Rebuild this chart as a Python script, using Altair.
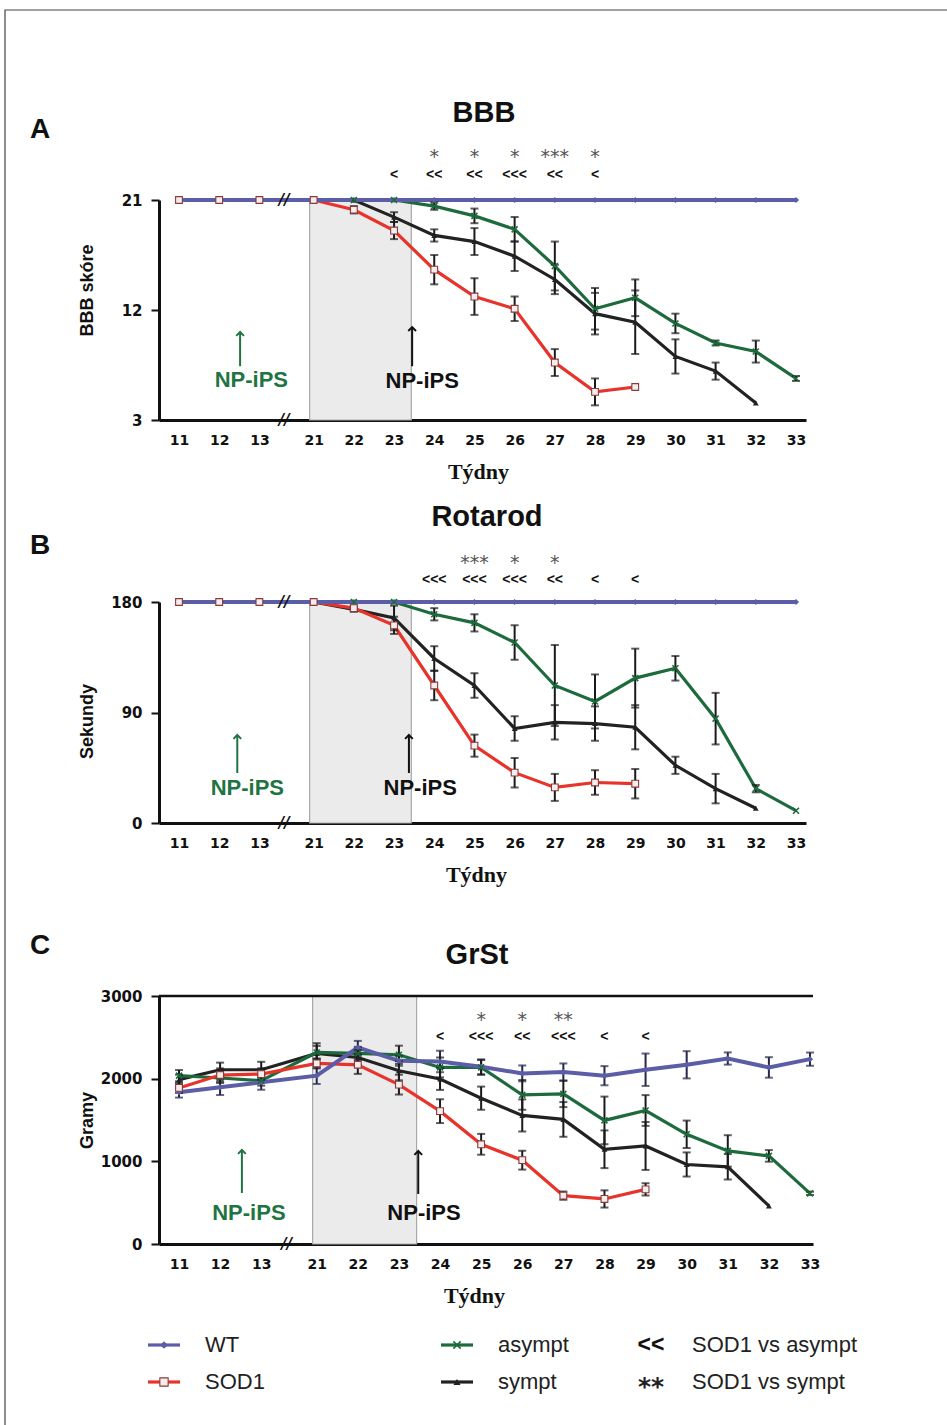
import altair as alt
import pandas as pd

# ---------------- data ----------------
weeks = [11, 12, 13, 21, 22, 23, 24, 25, 26, 27, 28, 29, 30, 31, 32, 33]
series_names = ["WT", "SOD1", "asympt", "sympt"]

# A - BBB score
bbb_wt = [21] * 16
bbb_wt_err = [0] * 16
bbb_sod1 = [21, 21, 21, 21, 20.2, 18.5, 15.3, 13.1, 12.1, 7.7, 5.3, 5.7]
bbb_sod1_err = [0, 0, 0, 0, 0.3, 0.7, 1.2, 1.5, 1.0, 1.1, 1.1, 0]
bbb_asympt = [21, 21, 21, 21, 21, 21, 20.5, 19.7, 18.6, 15.6, 12.1, 13.0, 10.9, 9.3, 8.6, 6.4]
bbb_asympt_err = [0, 0, 0, 0, 0, 0, 0.3, 0.6, 1.0, 2.0, 1.7, 1.5, 0.8, 0.2, 0.9, 0.2]
bbb_sympt = [21, 21, 21, 21, 21, 19.6, 18.1, 17.6, 16.4, 14.5, 11.7, 11.0, 8.2, 7.0, 4.4]
bbb_sympt_err = [0, 0, 0, 0, 0, 0.4, 0.5, 1.1, 1.2, 1.2, 1.7, 2.6, 1.4, 0.7, 0]

# B - Rotarod (seconds)
rot_wt = [180] * 16
rot_wt_err = [0] * 16
rot_sod1 = [180, 180, 180, 180, 175, 161, 112, 63, 41, 29, 33, 32]
rot_sod1_err = [0, 0, 0, 0, 2, 7, 12, 9, 12, 11, 10, 12]
rot_asympt = [180, 180, 180, 180, 180, 180, 170, 163, 147, 112, 99, 118, 126, 85, 28, 10]
rot_asympt_err = [0, 0, 0, 0, 0, 0, 5, 7, 14, 33, 22, 24, 10, 21, 3, 0]
rot_sympt = [180, 180, 180, 180, 174, 167, 134, 112, 77, 82, 81, 78, 47, 28, 12]
rot_sympt_err = [0, 0, 0, 0, 2, 10, 10, 10, 10, 14, 14, 18, 7, 12, 0]

# C - GrSt (grams)
gr_wt = [1835, 1896, 1956, 2036, 2377, 2216, 2208, 2144, 2064, 2080, 2036, 2108, 2168, 2244, 2136, 2236]
gr_wt_err = [64, 94, 90, 100, 80, 60, 130, 90, 96, 104, 116, 196, 165, 74, 124, 80]
gr_sod1 = [1888, 2044, 2056, 2184, 2168, 1928, 1607, 1206, 1014, 585, 545, 661]
gr_sod1_err = [60, 80, 70, 60, 110, 120, 144, 126, 114, 50, 104, 74]
gr_asympt = [2036, 2008, 1976, 2317, 2305, 2289, 2136, 2136, 1804, 1816, 1495, 1615, 1327, 1126, 1066, 613]
gr_asympt_err = [68, 60, 60, 80, 80, 110, 120, 90, 180, 160, 288, 186, 166, 190, 70, 20]
gr_sympt = [1988, 2108, 2108, 2305, 2256, 2096, 1996, 1764, 1555, 1507, 1146, 1186, 962, 934, 461]
gr_sympt_err = [60, 86, 96, 124, 90, 116, 132, 140, 194, 210, 228, 290, 146, 154, 0]

# significance marks
bbb_ann_weeks = [23, 24, 25, 26, 27, 28]
bbb_ann_asym = ["<", "<<", "<<", "<<<", "<<", "<"]
bbb_ann_sym = ["", "*", "*", "*", "***", "*"]
rot_ann_weeks = [24, 25, 26, 27, 28, 29]
rot_ann_asym = ["<<<", "<<<", "<<<", "<<", "<", "<"]
rot_ann_sym = ["", "***", "*", "*", "", ""]
gr_ann_weeks = [24, 25, 26, 27, 28, 29]
gr_ann_asym = ["<", "<<<", "<<", "<<<", "<", "<"]
gr_ann_sym = ["", "*", "*", "**", "", ""]

legend_labels = ["WT", "SOD1", "asympt", "sympt"]
legend_sig_marks = ["<<", "**"]
legend_sig_labels = ["SOD1 vs asympt", "SOD1 vs sympt"]

# ---------------- layout / style ----------------
W, H = 947, 1425
GAP = 3.35  # axis position of week 21 (after the break)


def pos_of(w):
    return float(w - 11) if w <= 13 else float(w - 21 + GAP)


COLORS = {"WT": "#5b5ea6", "SOD1": "#e8332b", "asympt": "#1d6b3c", "sympt": "#222222"}
ERRC = {"WT": "#24264a", "SOD1": "#1a1a1a", "asympt": "#1a1a1a", "sympt": "#1a1a1a"}
LINE_W = {"WT": 4, "SOD1": 3.2, "asympt": 3.2, "sympt": 3.2}
GREEN_TXT = "#1f7442"

panels = [
    dict(letter="A", title="BBB", ytitle="BBB skóre",
         vals=[bbb_wt, bbb_sod1, bbb_asympt, bbb_sympt],
         errs=[bbb_wt_err, bbb_sod1_err, bbb_asympt_err, bbb_sympt_err],
         ann=(bbb_ann_weeks, bbb_ann_asym, bbb_ann_sym),
         x11=179, x33=796, ax0=159, ax1=806,
         ymin=3, ymax=21, ybot=420, ytop=200, yticks=[3, 12, 21],
         ytitle_y=290, xtitle_x=478, title_xy=(484, 113), letter_xy=(40, 130),
         chev_y=23.05, star_y=24.5, top_break=True, top_rule=False,
         g_arrow=(1.52, 10.2, 7.4), g_label=(1.8, 6.3),
         k_arrow=(5.8, 10.6, 7.4), k_label=(6.05, 6.2)),
    dict(letter="B", title="Rotarod", ytitle="Sekundy",
         vals=[rot_wt, rot_sod1, rot_asympt, rot_sympt],
         errs=[rot_wt_err, rot_sod1_err, rot_asympt_err, rot_sympt_err],
         ann=(rot_ann_weeks, rot_ann_asym, rot_ann_sym),
         x11=179, x33=796, ax0=159, ax1=806,
         ymin=0, ymax=180, ybot=823, ytop=602, yticks=[0, 90, 180],
         ytitle_y=721, xtitle_x=476, title_xy=(487, 517), letter_xy=(40, 546),
         chev_y=197.9, star_y=211.8, top_break=True, top_rule=False,
         g_arrow=(1.45, 71.7, 40.7), g_label=(1.7, 28.5),
         k_arrow=(5.72, 71.7, 40.7), k_label=(6.0, 28.5)),
    dict(letter="C", title="GrSt", ytitle="Gramy",
         vals=[gr_wt, gr_sod1, gr_asympt, gr_sympt],
         errs=[gr_wt_err, gr_sod1_err, gr_asympt_err, gr_sympt_err],
         ann=(gr_ann_weeks, gr_ann_asym, gr_ann_sym),
         x11=179, x33=810, ax0=159, ax1=813,
         ymin=0, ymax=3000, ybot=1244, ytop=996, yticks=[0, 1000, 2000, 3000],
         ytitle_y=1120, xtitle_x=474, title_xy=(477, 955), letter_xy=(40, 946),
         chev_y=2504, star_y=2710, top_break=False, top_rule=True,
         g_arrow=(1.53, 1137, 617), g_label=(1.7, 375),
         k_arrow=(5.82, 1125, 605), k_label=(5.96, 375)),
]

one = pd.DataFrame({"d": [0]})
tick_pos = [pos_of(w) for w in weeks]
label_expr = f"datum.value < 3 ? format(datum.value + 11, 'd') : format(datum.value + {21 - GAP:.2f}, '.0f')"

MARKERS = {
    "WT": dict(shape="diamond", filled=True, size=38, color=COLORS["WT"]),
    "SOD1": dict(shape="square", filled=True, size=46, fill="#f4eded", stroke="#8a3a3a", strokeWidth=1.1),
    "asympt": dict(shape="M-1,-1L1,1M1,-1L-1,1", filled=False, size=36, stroke=COLORS["asympt"], strokeWidth=1.6),
    "sympt": dict(shape="triangle-up", filled=True, size=34, color=COLORS["sympt"]),
}


def build_panel(p):
    k = (p["x33"] - p["x11"]) / pos_of(33)
    xdom = [(p["ax0"] - p["x11"]) / k, (p["ax1"] - p["x11"]) / k]
    xs = alt.Scale(domain=xdom, range=[p["ax0"], p["ax1"]], nice=False, zero=False)
    ys = alt.Scale(domain=[p["ymin"], p["ymax"]], range=[p["ybot"], p["ytop"]], nice=False, zero=False)
    ax_x = alt.Axis(values=tick_pos, labelExpr=label_expr, orient="bottom", offset=p["ybot"] - H,
                    title="Týdny", titleX=p["xtitle_x"], titleY=51, titleFont="Liberation Serif",
                    titleFontSize=22, titleFontWeight="bold", titleBaseline="middle", titleAlign="center",
                    titleColor="#111", labelFont="DejaVu Sans", labelFontSize=14, labelFontWeight="bold",
                    labelColor="#111", labelPadding=13, labelOverlap=False, ticks=False,
                    domainColor="#111", domainWidth=3, grid=False)
    ax_y = alt.Axis(values=p["yticks"], format="d", orient="left", offset=-p["ax0"],
                    title=p["ytitle"], titleX=87 - p["ax0"], titleY=p["ytitle_y"], titleAngle=270,
                    titleFont="Liberation Sans", titleFontSize=18, titleFontWeight="bold",
                    titleBaseline="middle", titleAlign="center", titleColor="#111",
                    labelFont="DejaVu Sans", labelFontSize=15, labelFontWeight="bold", labelColor="#111",
                    labelPadding=9, tickSize=8, tickWidth=2, tickColor="#111",
                    domainColor="#111", domainWidth=3, grid=False, labelOverlap=False)

    def X(f):
        return alt.X(f, type="quantitative", scale=xs, axis=ax_x)

    def Y(f):
        return alt.Y(f, type="quantitative", scale=ys, axis=ax_y)

    rows = []
    for name, vals, errs in zip(series_names, p["vals"], p["errs"]):
        for i, v in enumerate(vals):
            e = errs[i]
            rows.append(dict(series=name, week=weeks[i], pos=pos_of(weeks[i]), val=v,
                             err=e, lo=v - e, hi=v + e))
    df = pd.DataFrame(rows)

    layers = []
    # shaded treatment window
    shade = pd.DataFrame({"x0": [pos_of(21) - 0.1], "x1": [pos_of(23) + 0.43],
                          "y0": [p["ymin"]], "y1": [p["ymax"]]})
    layers.append(alt.Chart(shade).mark_rect(fill="#ebebeb", stroke="#a8a8a8", strokeWidth=1.2).encode(
        x=X("x0"), x2="x1", y=Y("y0"), y2="y1"))
    if p["top_rule"]:
        tr = pd.DataFrame({"x0": [xdom[0]], "x1": [xdom[1]], "y": [p["ymax"]]})
        layers.append(alt.Chart(tr).mark_rule(color="#111", strokeWidth=2.5).encode(
            x=X("x0"), x2="x1", y=Y("y")))
    # lines
    for name in ["sympt", "asympt", "SOD1", "WT"]:
        layers.append(alt.Chart(df[df.series == name]).mark_line(
            color=COLORS[name], strokeWidth=LINE_W[name]).encode(x=X("pos"), y=Y("val"), order="pos"))
    # error bars
    edf = df[df.err > 0]
    caps = pd.concat([edf.assign(cap=edf.lo), edf.assign(cap=edf.hi)])
    for name in series_names:
        sub = edf[edf.series == name]
        csub = caps[caps.series == name]
        if len(sub) == 0:
            continue
        layers.append(alt.Chart(sub).mark_rule(color=ERRC[name], strokeWidth=2).encode(
            x=X("pos"), y=Y("lo"), y2="hi"))
        layers.append(alt.Chart(csub).mark_tick(color=ERRC[name], orient="horizontal", size=8,
                                                thickness=2).encode(x=X("pos"), y=Y("cap")))
    # markers
    for name in ["WT", "sympt", "asympt", "SOD1"]:
        layers.append(alt.Chart(df[df.series == name]).mark_point(opacity=1, **MARKERS[name]).encode(
            x=X("pos"), y=Y("val")))
    # axis break marks
    brk_y = [p["ymin"]] + ([p["ymax"]] if p["top_break"] else [])
    brk = pd.DataFrame({"pos": [2.62] * len(brk_y), "y": brk_y})
    layers.append(alt.Chart(brk).mark_text(text="//", font="DejaVu Sans", fontSize=15, fontWeight="bold",
                                           fontStyle="italic", color="#111", baseline="middle").encode(
        x=X("pos"), y=Y("y")))
    # significance annotations
    aw, aa, asy = p["ann"]
    adf = pd.DataFrame({"pos": [pos_of(w) for w in aw], "asym": aa, "sym": asy,
                        "cy": [p["chev_y"]] * len(aw), "sy": [p["star_y"]] * len(aw)})
    layers.append(alt.Chart(adf).mark_text(font="Liberation Sans", fontSize=14, fontWeight="bold",
                                           color="#111", baseline="middle").encode(
        x=X("pos"), y=Y("cy"), text="asym:N"))
    sdf = adf[adf.sym != ""]
    layers.append(alt.Chart(sdf).mark_text(font="DejaVu Sans", fontSize=19, color="#555",
                                           baseline="middle").encode(
        x=X("pos"), y=Y("sy"), text="sym:N"))
    # NP-iPS arrows and labels
    arr = pd.DataFrame({"pos": [p["g_arrow"][0], p["k_arrow"][0]],
                        "tip": [p["g_arrow"][1], p["k_arrow"][1]],
                        "base": [p["g_arrow"][2], p["k_arrow"][2]],
                        "col": [GREEN_TXT, "#111111"],
                        "lx": [p["g_label"][0], p["k_label"][0]],
                        "ly": [p["g_label"][1], p["k_label"][1]],
                        "txt": ["NP-iPS", "NP-iPS"]})
    layers.append(alt.Chart(arr).mark_rule(strokeWidth=2).encode(
        x=X("pos"), y=Y("base"), y2="tip", color=alt.Color("col:N", scale=None, legend=None)))
    layers.append(alt.Chart(arr).mark_point(shape="M-1,1L0,0L1,1", filled=False, size=60, strokeWidth=2,
                                            opacity=1).encode(
        x=X("pos"), y=Y("tip"), stroke=alt.Stroke("col:N", scale=None, legend=None)))
    layers.append(alt.Chart(arr).mark_text(font="Liberation Sans", fontSize=22, fontWeight="bold",
                                           baseline="middle").encode(
        x=X("lx"), y=Y("ly"), text="txt:N", color=alt.Color("col:N", scale=None, legend=None)))
    # panel title and letter
    layers.append(alt.Chart(one).mark_text(text=p["title"], font="Liberation Sans", fontSize=29,
                                           fontWeight="bold", color="#111", baseline="middle").encode(
        x=alt.value(p["title_xy"][0]), y=alt.value(p["title_xy"][1])))
    layers.append(alt.Chart(one).mark_text(text=p["letter"], font="Liberation Sans", fontSize=28,
                                           fontWeight="bold", color="#111", baseline="middle").encode(
        x=alt.value(p["letter_xy"][0]), y=alt.value(p["letter_xy"][1])))
    return alt.layer(*layers)


panel_charts = [build_panel(p) for p in panels]

# ---------------- legend ----------------
leg_rows = []
for i, name in enumerate(legend_labels):
    col, row = i // 2, i % 2
    x0 = 148 + col * 293
    y = 1345 + row * 37
    leg_rows.append(dict(series=name, x0=x0, x1=x0 + 32, xm=x0 + 16, xt=x0 + 57, y=y,
                         color=COLORS[name]))
leg = pd.DataFrame(leg_rows)
PX = lambda f: alt.X(f, type="quantitative", scale=None, axis=None)
PY = lambda f: alt.Y(f, type="quantitative", scale=None, axis=None)
legend_layers = [
    alt.Chart(leg).mark_rule(strokeWidth=3.2).encode(
        x=PX("x0"), x2="x1", y=PY("y"), color=alt.Color("color:N", scale=None, legend=None)),
]
for name in legend_labels:
    legend_layers.append(alt.Chart(leg[leg.series == name]).mark_point(
        opacity=1, **{**MARKERS[name], "size": MARKERS[name]["size"] * 1.5}).encode(x=PX("xm"), y=PY("y")))
legend_layers.append(alt.Chart(leg).mark_text(font="Liberation Sans", fontSize=22, color="#222",
                                              align="left", baseline="middle").encode(
    x=PX("xt"), y=PY("y"), text="series:N"))
sig = pd.DataFrame({"mark": legend_sig_marks, "label": legend_sig_labels,
                    "xm": [651, 651], "xt": [692, 692], "y": [1345, 1382]})
legend_layers.append(alt.Chart(sig.iloc[[0]]).mark_text(font="Liberation Sans", fontSize=23,
                                                        fontWeight="bold", color="#111",
                                                        baseline="middle").encode(
    x=PX("xm"), y=PY("y"), text="mark:N"))
legend_layers.append(alt.Chart(sig.iloc[[1]]).mark_text(font="DejaVu Sans", fontSize=25, fontWeight="bold",
                                                        color="#222", baseline="middle", dy=5).encode(
    x=PX("xm"), y=PY("y"), text="mark:N"))
legend_layers.append(alt.Chart(sig).mark_text(font="Liberation Sans", fontSize=22, color="#222",
                                              align="left", baseline="middle").encode(
    x=PX("xt"), y=PY("y"), text="label:N"))

frame = alt.Chart(one).mark_rect(fill=None, stroke="#444", strokeWidth=1.2).encode(
    x=alt.value(5), x2=alt.value(980), y=alt.value(10), y2=alt.value(1460))

chart = alt.layer(frame, *panel_charts, *legend_layers).resolve_scale(
    x="independent", y="independent"
).properties(
    width=W, height=H, autosize=alt.AutoSizeParams(type="none"), padding=0,
    background="white"
).configure_view(strokeWidth=0)

chart.save("out.html", embed_options={"renderer": "svg", "actions": False})
